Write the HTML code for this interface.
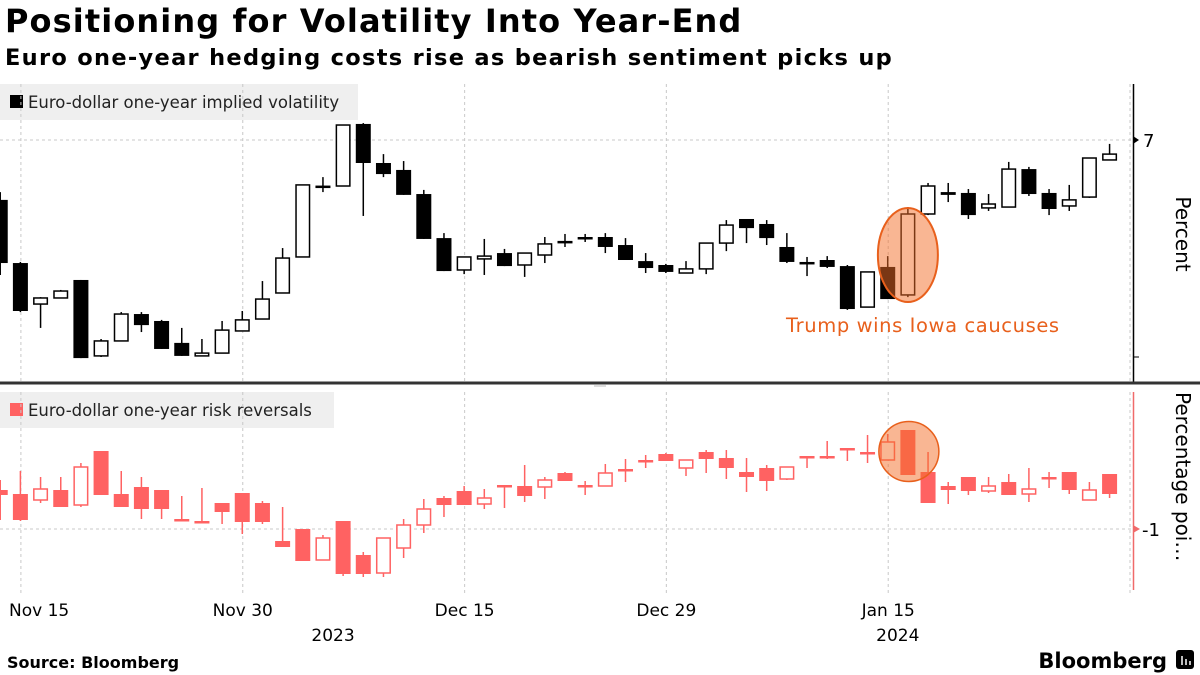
<!DOCTYPE html>
<html><head><meta charset="utf-8">
<style>
html,body{margin:0;padding:0;background:#fff;}
body{width:1200px;height:675px;overflow:hidden;position:relative;font-family:"DejaVu Sans","Liberation Sans",sans-serif;}
#title{position:absolute;left:5px;top:2px;font-size:32px;font-weight:bold;color:#000;letter-spacing:1.1px;white-space:nowrap;}
#subtitle{position:absolute;left:5px;top:45px;font-size:22.5px;font-weight:bold;color:#000;letter-spacing:1.3px;white-space:nowrap;}
svg{position:absolute;left:0;top:0;}
svg text{font-family:"DejaVu Sans","Liberation Sans",sans-serif;}
</style></head>
<body>
<div id="title">Positioning for Volatility Into Year-End</div>
<div id="subtitle">Euro one-year hedging costs rise as bearish sentiment picks up</div>
<svg id="chart" width="1200" height="675" xmlns="http://www.w3.org/2000/svg"></svg>
<script>
// Dates (business days), first = Nov 14 2023
const xLabels = ["Nov 15","Nov 30","Dec 15","Dec 29","Jan 15"];
const xLabelIdx = [1,12,23,33,44];
const yearLabels = ["2023","2024"];
const yearLabelIdx = [16.5,44.5];
// Euro-dollar one-year implied volatility (percent)
const volOpen = [6.724,6.433,6.244,6.272,6.355,6.005,6.074,6.198,6.166,6.065,6.005,6.018,6.120,6.175,6.295,6.461,6.788,6.788,7.074,6.894,6.862,6.751,6.548,6.401,6.452,6.479,6.424,6.470,6.535,6.553,6.553,6.516,6.442,6.424,6.387,6.406,6.525,6.636,6.613,6.507,6.438,6.447,6.419,6.230,6.415,6.286,6.659,6.760,6.756,6.687,6.691,6.866,6.756,6.696,6.737,6.908];
const volHigh = [6.760,6.438,6.276,6.309,6.355,6.083,6.207,6.207,6.171,6.134,6.083,6.166,6.212,6.350,6.502,6.793,6.829,7.069,7.078,6.935,6.903,6.770,6.571,6.461,6.544,6.498,6.479,6.553,6.567,6.567,6.571,6.548,6.479,6.429,6.442,6.525,6.631,6.636,6.631,6.571,6.461,6.465,6.424,6.392,6.465,6.691,6.802,6.802,6.774,6.751,6.899,6.876,6.774,6.793,6.917,6.982];
const volLow = [6.378,6.207,6.134,6.272,5.995,6.000,6.074,6.115,6.037,6.005,6.005,6.018,6.120,6.175,6.295,6.461,6.760,6.788,6.650,6.829,6.747,6.544,6.396,6.382,6.378,6.419,6.369,6.433,6.507,6.530,6.479,6.447,6.387,6.387,6.387,6.382,6.488,6.525,6.516,6.433,6.373,6.410,6.217,6.230,6.267,6.276,6.654,6.714,6.636,6.673,6.691,6.742,6.654,6.673,6.733,6.908];
const volClose = [6.433,6.212,6.272,6.304,5.995,6.074,6.198,6.147,6.037,6.005,6.018,6.124,6.171,6.267,6.456,6.793,6.790,7.069,6.894,6.843,6.747,6.544,6.396,6.461,6.465,6.419,6.479,6.521,6.525,6.544,6.507,6.447,6.410,6.392,6.406,6.525,6.608,6.594,6.548,6.438,6.436,6.415,6.221,6.392,6.267,6.659,6.788,6.747,6.654,6.705,6.866,6.751,6.682,6.724,6.917,6.935];
// Euro-dollar one-year risk reversals (percentage points)
const rrOpen = [-0.805,-0.825,-0.855,-0.805,-0.88,-0.61,-0.825,-0.79,-0.805,-0.95,-0.96,-0.87,-0.82,-0.87,-1.06,-1.0,-1.155,-0.96,-1.13,-1.22,-1.095,-0.98,-0.845,-0.81,-0.875,-0.78,-0.785,-0.79,-0.72,-0.78,-0.785,-0.70,-0.655,-0.625,-0.695,-0.615,-0.645,-0.715,-0.695,-0.75,-0.635,-0.635,-0.595,-0.615,-0.655,-0.505,-0.715,-0.785,-0.74,-0.81,-0.765,-0.825,-0.74,-0.715,-0.855,-0.725];
const rrHigh = [-0.755,-0.71,-0.74,-0.74,-0.67,-0.61,-0.71,-0.74,-0.805,-0.835,-0.795,-0.87,-0.82,-0.86,-0.89,-1.0,-1.03,-0.96,-1.115,-1.045,-0.95,-0.85,-0.835,-0.785,-0.80,-0.78,-0.68,-0.74,-0.715,-0.76,-0.675,-0.65,-0.63,-0.62,-0.655,-0.605,-0.605,-0.645,-0.68,-0.69,-0.635,-0.56,-0.595,-0.53,-0.525,-0.505,-0.615,-0.765,-0.74,-0.74,-0.725,-0.695,-0.715,-0.715,-0.765,-0.725];
const rrLow = [-0.955,-0.96,-0.87,-0.89,-0.89,-0.83,-0.89,-0.95,-0.95,-0.96,-0.96,-0.975,-1.025,-0.975,-1.09,-1.16,-1.155,-1.235,-1.24,-1.24,-1.145,-1.02,-0.94,-0.88,-0.90,-0.895,-0.865,-0.85,-0.76,-0.83,-0.785,-0.765,-0.695,-0.66,-0.735,-0.72,-0.75,-0.815,-0.81,-0.755,-0.695,-0.65,-0.66,-0.67,-0.655,-0.73,-0.87,-0.875,-0.83,-0.82,-0.83,-0.865,-0.795,-0.825,-0.855,-0.845];
const rrClose = [-0.83,-0.955,-0.80,-0.89,-0.69,-0.83,-0.89,-0.90,-0.90,-0.96,-0.96,-0.915,-0.965,-0.965,-1.09,-1.16,-1.045,-1.225,-1.225,-1.045,-0.98,-0.90,-0.88,-0.88,-0.845,-0.79,-0.835,-0.755,-0.76,-0.78,-0.72,-0.70,-0.655,-0.66,-0.655,-0.65,-0.695,-0.74,-0.76,-0.69,-0.645,-0.635,-0.595,-0.615,-0.565,-0.73,-0.87,-0.805,-0.81,-0.785,-0.83,-0.80,-0.74,-0.805,-0.805,-0.825];
const highlightIdx = 45;

const svg = document.getElementById('chart');
const NS = 'http://www.w3.org/2000/svg';
function mk(tag, attrs, parent){const e=document.createElementNS(NS,tag);for(const k in attrs)e.setAttribute(k,attrs[k]);(parent||svg).appendChild(e);return e;}
const xPos = i => 0.23 + 20.17*i;
const yTop = v => 140 + (7 - v)*217;
const yBot = v => 529 - (v + 1)*200;
const BW = 15;

// legends
let lg = mk('rect',{x:0,y:84,width:358,height:36,fill:'#efefef'});


let ls = mk('rect',{x:10,y:95,width:13,height:13,fill:'#000'});


let lt = mk('text',{x:28,y:108,'font-size':16.5,fill:'#222'}); lt.textContent='Euro-dollar one-year implied volatility';


let lg2 = mk('rect',{x:0,y:392,width:334,height:36,fill:'#efefef'});


let ls2 = mk('rect',{x:10,y:403,width:13,height:13,fill:'#ff6262'});


let lt2 = mk('text',{x:28,y:416,'font-size':16.5,fill:'#222'}); lt2.textContent='Euro-dollar one-year risk reversals';



// gridlines
xLabelIdx.forEach((idx,k)=>{
  const x = xPos(idx)+0.5;
  let g1 = mk('line',{x1:x,y1:84,x2:x,y2:382,stroke:'#c8c8c8','stroke-dasharray':'3,3'});
  
  
  let g2 = mk('line',{x1:x,y1:392,x2:x,y2:595,stroke:'#c8c8c8','stroke-dasharray':'3,3'});
  
  
  const first = k===0;
  let t = mk('text',{x:first?9:x,y:616,'font-size':17,fill:'#000','text-anchor':first?'start':'middle'}); t.textContent=xLabels[k];
  
  
});
mk('line',{x1:1130,y1:84,x2:1130,y2:382,stroke:'#c8c8c8','stroke-dasharray':'3,3'});
mk('line',{x1:1130,y1:392,x2:1130,y2:595,stroke:'#c8c8c8','stroke-dasharray':'3,3'});
yearLabels.forEach((s,k)=>{
  let t = mk('text',{x:xPos(yearLabelIdx[k]),y:641,'font-size':17,fill:'#000','text-anchor':'middle'}); t.textContent=s;
  
  
});
let hg1 = mk('line',{x1:0,y1:yTop(7),x2:1133,y2:yTop(7),stroke:'#c8c8c8','stroke-dasharray':'3,3'});


let hg2 = mk('line',{x1:0,y1:yBot(-1),x2:1133,y2:yBot(-1),stroke:'#c8c8c8','stroke-dasharray':'3,3'});



// axes
let ax1 = mk('line',{x1:1133.5,y1:84,x2:1133.5,y2:383,stroke:'#000','stroke-width':1.5});


mk('path',{d:`M1133 ${yTop(7)-4} L1139 ${yTop(7)} L1133 ${yTop(7)+4}Z`,fill:'#000'});
mk('line',{x1:1133,y1:yTop(6),x2:1139,y2:yTop(6),stroke:'#000'});
let t7 = mk('text',{x:1143,y:yTop(7)+7,'font-size':18,fill:'#000'}); t7.textContent='7';


let ax2 = mk('line',{x1:1133.5,y1:392,x2:1133.5,y2:590,stroke:'#f06a6a','stroke-width':1.5});


mk('path',{d:`M1133 ${yBot(-1)-4} L1140 ${yBot(-1)} L1133 ${yBot(-1)+4}Z`,fill:'#f06a6a'});
let tm1 = mk('text',{x:1142,y:yBot(-1)+7,'font-size':18,fill:'#000'}); tm1.textContent='-1';


let yt1 = mk('text',{x:1176,y:234,'font-size':20,fill:'#000','text-anchor':'middle',transform:'rotate(90 1176 234)'}); yt1.textContent='Percent';


let yt2 = mk('text',{x:1176,y:392,'font-size':20,fill:'#000','text-anchor':'start',transform:'rotate(90 1176 392)'}); yt2.textContent='Percentage poi…';



// separator
let sep = mk('line',{x1:0,y1:383,x2:1200,y2:383,stroke:'#333','stroke-width':3});


mk('line',{x1:594,y1:386,x2:606,y2:386,stroke:'#bbb','stroke-width':1});

function drawCandles(O,H,L,C,ys,color,prefix){
  for(let i=0;i<O.length;i++){
    const cx = xPos(i);
    const g = mk('g',{});
    
    
    mk('line',{x1:cx,y1:ys(H[i]),x2:cx,y2:ys(L[i]),stroke:color,'stroke-width':1.5},g);
    const top = ys(Math.max(O[i],C[i])), bot = ys(Math.min(O[i],C[i]));
    const h = Math.max(bot-top,1.5);
    if(C[i] >= O[i] && bot-top>2){
      mk('rect',{x:cx-BW/2+0.75,y:top,width:BW-1.5,height:h,fill:'#fff',stroke:color,'stroke-width':1.5},g);
    } else {
      mk('rect',{x:cx-BW/2,y:top,width:BW,height:Math.max(h,2.5),fill:color},g);
    }
  }
}
drawCandles(volOpen,volHigh,volLow,volClose,yTop,'#000','volatility');
drawCandles(rrOpen,rrHigh,rrLow,rrClose,yBot,'#ff6262','risk-reversal');

// highlights
const hx = xPos(highlightIdx);
let e1 = mk('ellipse',{cx:hx,cy:(yTop(volHigh[highlightIdx])+yTop(volLow[highlightIdx-1]))/2+2,rx:30,ry:47,fill:'rgba(244,110,40,0.5)',stroke:'#e8601c','stroke-width':2});


let e2 = mk('ellipse',{cx:hx+1,cy:(yBot(rrHigh[highlightIdx])+yBot(rrClose[highlightIdx]))/2-1,rx:30,ry:30,fill:'rgba(244,110,40,0.5)',stroke:'#e8601c','stroke-width':1.5});


let an = mk('text',{x:786,y:332,'font-size':19.5,fill:'#e8601c','letter-spacing':0.6}); an.textContent='Trump wins Iowa caucuses';



// footer
let src = mk('text',{x:7,y:668,'font-size':16,'font-weight':'bold',fill:'#000'}); src.textContent='Source: Bloomberg';


let logo = mk('text',{x:1167,y:668,'font-size':21,'font-weight':'bold',fill:'#000','text-anchor':'end','font-family':'Liberation Sans, sans-serif'}); logo.textContent='Bloomberg';


let lb = mk('rect',{x:1176,y:650,width:18,height:19,rx:3,fill:'#000'});


mk('line',{x1:1182,y1:656,x2:1182,y2:665,stroke:'#fff','stroke-width':1.5});
mk('line',{x1:1186,y1:659,x2:1186,y2:665,stroke:'#fff','stroke-width':1.5});
mk('line',{x1:1190,y1:661,x2:1190,y2:665,stroke:'#fff','stroke-width':1.5});
</script>
</body></html>
